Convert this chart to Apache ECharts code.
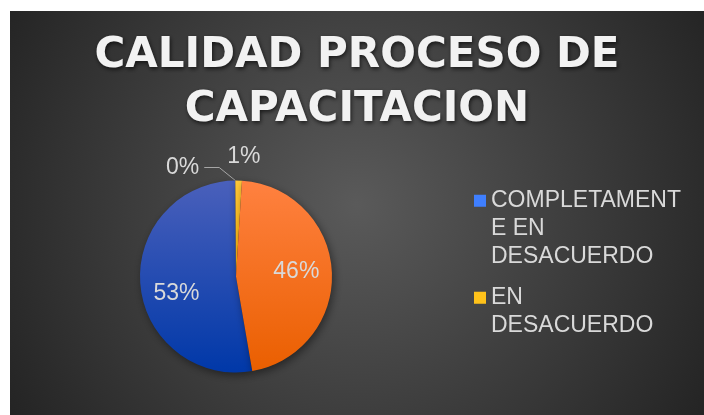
<!DOCTYPE html>
<html>
<head>
<meta charset="utf-8">
<style>
    html, body { margin: 0; padding: 0; background: #ffffff; }
    #container { position: absolute; left: 10px; top: 11px; width: 694px; height: 404px; }
</style>
</head>
<body>
<div id="container"></div>
<script type="text/javascript" src="https://cdn.jsdelivr.net/npm/echarts@6/dist/echarts.min.js"></script>
<script type="text/javascript">
    // datos del grafico (porcentaje por respuesta)
    var categorias = ['COMPLETAMENTE EN DESACUERDO', 'NI DE ACUERDO NI EN DESACUERDO', 'EN DESACUERDO', 'DE ACUERDO'];
    var valores = [52.6, 0, 1.1, 46.3];
    var leyenda = ['COMPLETAMENTE EN DESACUERDO', 'EN DESACUERDO'];
    var leyendaTexto = ['COMPLETAMENT\nE EN\nDESACUERDO', 'EN\nDESACUERDO\n'];

    function grad(c1, c2) {
        return { type: 'linear', x: 0, y: 0, x2: 0, y2: 1, colorStops: [{ offset: 0, color: c1 }, { offset: 1, color: c2 }] };
    }
    var colores = [grad('#4a60bb', '#0038a8'), '#8c8c8c', grad('#ffc83a', '#ffb400'), grad('#ff8140', '#ea5f00')];
    var coloresLeyenda = ['#3f7fff', '#ffc21a'];

    var dom = document.getElementById('container');
    var myChart = echarts.init(dom);

    var datos = [];
    for (var i = 0; i < categorias.length; i++) {
        var item = { name: categorias[i], value: valores[i], itemStyle: { color: colores[i] } };
        if (i === 1) {
            item.label = { position: 'outside' };
            item.labelLine = { show: true, length: 13, length2: 31 };
        } else if (i === 2) {
            item.label = { position: 'outside' };
            item.labelLine = { show: false, length: 23.6, length2: 0 };
        }
        datos.push(item);
    }

    var option = {
        backgroundColor: {
            type: 'radial', x: 0.5, y: 0.48, r: 1.0,
            colorStops: [{ offset: 0, color: '#5a5a5a' }, { offset: 1, color: '#242424' }]
        },
        title: {
            text: 'CALIDAD PROCESO DE\nCAPACITACION',
            left: 'center',
            top: 18.5,
            padding: [0, 0, 0, 10],
            textStyle: {
                fontFamily: 'DejaVu Sans',
                fontWeight: 'bold',
                fontSize: 42,
                lineHeight: 54,
                color: '#f2f2f2',
                textShadowColor: 'rgba(0,0,0,0.65)',
                textShadowBlur: 4,
                textShadowOffsetX: 1,
                textShadowOffsetY: 2
            }
        },
        legend: {
            orient: 'vertical',
            left: 464,
            top: 175.7,
            padding: 0,
            itemGap: 13,
            itemWidth: 12,
            itemHeight: 84,
            selectedMode: false,
            icon: 'path://M0,0L12,0M0,8L12,8L12,20L0,20ZM0,84L12,84',
            data: leyenda.map(function (n, k) {
                return { name: n, itemStyle: { color: coloresLeyenda[k], borderWidth: 0 } };
            }),
            formatter: function (name) {
                return leyendaTexto[leyenda.indexOf(name)];
            },
            textStyle: {
                fontFamily: 'Liberation Sans',
                fontSize: 23,
                lineHeight: 28,
                color: '#d9d9d9'
            }
        },
        series: [
            {
                type: 'pie',
                center: [226, 265.5],
                radius: 96,
                startAngle: -80.24,
                clockwise: true,
                avoidLabelOverlap: false,
                silent: true,
                data: datos,
                itemStyle: {
                    borderWidth: 0,
                    shadowBlur: 8,
                    shadowColor: 'rgba(0,0,0,0.45)',
                    shadowOffsetX: 2,
                    shadowOffsetY: 3
                },
                label: {
                    show: true,
                    position: 'inside',
                    formatter: function (p) { return Math.round(p.percent) + '%'; },
                    fontFamily: 'Liberation Sans',
                    fontSize: 23,
                    color: '#d9d9d9',
                    distanceToLabelLine: 5
                },
                labelLine: {
                    lineStyle: { color: '#a6a6a6', width: 1 }
                },
                labelLayout: function (p) {
                    if (p.dataIndex === 0) return { dx: -8.7, dy: 12.3 };
                    if (p.dataIndex === 3) return { dx: 9.4, dy: -1.9 };
                    if (p.dataIndex === 2) return { dx: -17 };
                    if (p.dataIndex === 1 && p.labelLinePoints) {
                        var pts = p.labelLinePoints;
                        return {
                            labelLinePoints: [pts[0], [pts[1][0] - 16, pts[1][1]], pts[2]]
                        };
                    }
                    return {};
                }
            }
        ]
    };

    if (option && typeof option === 'object') {
        myChart.setOption(option);
    }
</script>
</body>
</html>
